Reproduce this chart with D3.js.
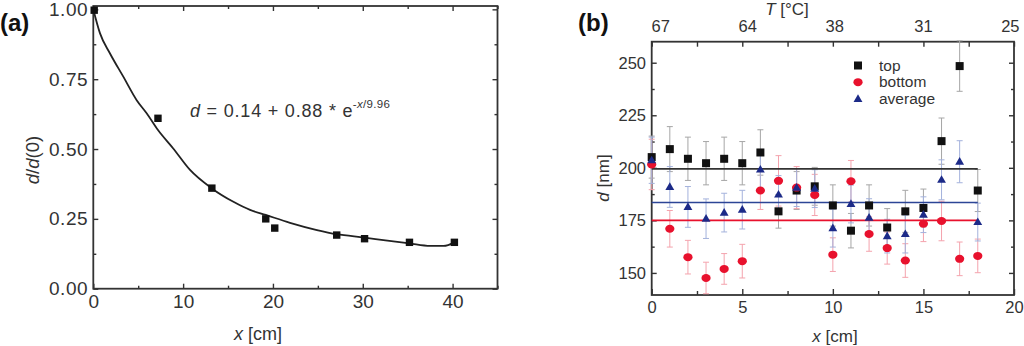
<!DOCTYPE html>
<html>
<head>
<meta charset="utf-8">
<script src="https://cdn.jsdelivr.net/npm/d3@7"></script>
<style>
body{margin:0;background:#fff}
text{font-family:"Liberation Sans",Arial,sans-serif;fill:#333}
</style>
</head>
<body>
<div id="chart"></div>
<script>
var w = 1024, h = 346

// panel (a): normalised thickness vs position
var a_x = [0.1, 7.2, 13.2, 19.2, 20.2, 27.1, 30.2, 35.2, 40.2]
var a_y = [0.997, 0.61, 0.36, 0.25, 0.217, 0.192, 0.179, 0.166, 0.166]
// fit curve
var fit_x = [0, 0.75, 1.86, 3.34, 4.83, 5.94, 7.2, 8.9, 10.77, 13.2, 15.6, 17.45, 19.2, 21.9, 24.9, 27.1, 30.2, 32.3, 35.2, 37.5, 39, 40.2]
var fit_y = [1.0, 0.914, 0.842, 0.759, 0.675, 0.628, 0.568, 0.502, 0.425, 0.359, 0.311, 0.282, 0.264, 0.236, 0.21, 0.195, 0.183, 0.174, 0.162, 0.153, 0.153, 0.166]
var a_xticks = [0, 10, 20, 30, 40]
var a_xminor = [5, 15, 25, 35, 45]
var a_yticks = [0, 0.25, 0.5, 0.75, 1]
var a_yminor = [0.125, 0.375, 0.625, 0.875]

// panel (b): thickness at top / bottom / average
var b_x = [0, 1, 2, 3, 4, 5, 6, 7, 8, 9, 10, 11, 12, 13, 14, 15, 16, 17, 18]
var top_d = [205.1, 208.9, 204.3, 202.2, 204.3, 202.2, 207.3, 179.3, 189.2, 191.2, 182.1, 170.1, 182.1, 171.6, 179.3, 180.9, 212.7, 248.4, 189.2]
var top_err = [10, 10.7, 10.3, 10.3, 10.3, 10.3, 10.8, 8, 9, 9, 9.8, 8.2, 9.8, 9, 10, 9, 11, 12, 10]
var bot_d = [201.6, 171, 157.5, 147.6, 151.9, 155.6, 189.2, 193.8, 190.6, 187.1, 158.7, 193.6, 168.5, 161.8, 155.9, 173.4, 174.7, 156.7, 158.1]
var bot_err = [12, 8.7, 8, 7.5, 7.3, 8, 9, 12, 10, 9.8, 8, 9.9, 8.2, 7.6, 8, 8.5, 9.4, 8, 8]
var avg_d = [203.6, 190.9, 181.4, 175.8, 178.7, 180.1, 199.2, 187.3, 190.6, 190.1, 171.3, 182.8, 176.3, 167.5, 168.5, 177.7, 194.3, 202.9, 174.2]
var avg_err = [11, 9.7, 9.7, 9.4, 9.2, 9.2, 9, 9, 9, 9, 9, 9, 9, 8, 9, 8.5, 9.5, 10, 9]
var mean_top = 199.5, mean_bot = 175, mean_avg = 183.5
var b_xticks = [0, 5, 10, 15, 20]
var b_xminor = [2.5, 7.5, 12.5, 17.5]
var b_yticks = [150, 175, 200, 225, 250]
var b_yminor = [162.5, 187.5, 212.5, 237.5]
var t_labels = ["67", "64", "38", "31", "25"]
var t_label_x = [0.5, 5.3, 10.1, 15, 19.8]

var ink = "#333"

var svg = d3.select("#chart").append("svg")
  .attr("width", w).attr("height", h)

// inward ticks helper
function ticks(axis, g, vals, size, labels, fs, pad) {
  var ax = axis.tickValues(vals).tickSize(-size).tickSizeOuter(0)
  if (labels) ax.tickPadding(pad).tickFormat(labels)
  else ax.tickFormat("")
  g.call(ax)
  g.select(".domain").remove()
  g.selectAll(".tick line").attr("stroke", ink).attr("stroke-width", 1.4)
  g.selectAll("text").attr("font-size", fs).attr("fill", ink)
    .style("font-family", '"Liberation Sans",Arial,sans-serif')
  return g
}

// ---------- (a) ----------
var xa = d3.scaleLinear().domain([0, 45]).range([93.3, 497.5])
var ya = d3.scaleLinear().domain([0, 1.012]).range([288.7, 6])
var ga = svg.append("g")

ticks(d3.axisBottom(xa), ga.append("g").attr("transform", "translate(0," + ya(0) + ")"), a_xticks, 5, d3.format("d"), 19, 6)
ticks(d3.axisBottom(xa), ga.append("g").attr("transform", "translate(0," + ya(0) + ")"), a_xminor, 3)
ticks(d3.axisTop(xa), ga.append("g").attr("transform", "translate(0," + ya.range()[1] + ")"), a_xticks, 5)
ticks(d3.axisTop(xa), ga.append("g").attr("transform", "translate(0," + ya.range()[1] + ")"), a_xminor, 3)
var yl = ticks(d3.axisLeft(ya), ga.append("g").attr("transform", "translate(" + xa(0) + ",0)"), a_yticks, 5, d3.format(".2f"), 19, 5)
yl.selectAll("text").attr("letter-spacing", 0.6)
ticks(d3.axisLeft(ya), ga.append("g").attr("transform", "translate(" + xa(0) + ",0)"), a_yminor, 3)
ticks(d3.axisRight(ya), ga.append("g").attr("transform", "translate(" + xa.range()[1] + ",0)"), a_yticks, 5)
ticks(d3.axisRight(ya), ga.append("g").attr("transform", "translate(" + xa.range()[1] + ",0)"), a_yminor, 3)

ga.append("rect")
  .attr("x", xa(0)).attr("y", ya.range()[1])
  .attr("width", xa.range()[1] - xa(0)).attr("height", ya(0) - ya.range()[1])
  .attr("fill", "none").attr("stroke", ink).attr("stroke-width", 1.8)

var fit = d3.range(fit_x.length).map(function(i){ return [fit_x[i], fit_y[i]] })
ga.append("path")
  .datum(fit)
  .attr("d", d3.line().x(function(d){ return xa(d[0]) }).y(function(d){ return ya(d[1]) }).curve(d3.curveMonotoneX))
  .attr("fill", "none").attr("stroke", "#222").attr("stroke-width", 1.8)

ga.selectAll(".pt")
  .data(a_x)
  .enter().append("rect")
  .attr("class", "pt")
  .attr("x", function(d){ return xa(d) - 3.7 })
  .attr("y", function(d, i){ return ya(a_y[i]) - 3.7 })
  .attr("width", 7.4).attr("height", 7.4)
  .attr("fill", "#111")

var eq = ga.append("text").attr("x", 190).attr("y", 117).attr("font-size", 18).attr("letter-spacing", 0.8)
eq.append("tspan").attr("font-style", "italic").text("d")
eq.append("tspan").text(" = 0.14 + 0.88 * e")
var sup = eq.append("tspan").attr("dy", -9).attr("dx", -0.5).attr("font-size", 11.5).attr("letter-spacing", 0.3)
sup.text("-")
eq.append("tspan").attr("font-size", 11.5).attr("font-style", "italic").attr("letter-spacing", 0.3).text("x")
eq.append("tspan").attr("font-size", 11.5).attr("letter-spacing", 0.3).text("/9.96")

var yla = ga.append("text").attr("transform", "translate(39,160) rotate(-90)")
  .attr("text-anchor", "middle").attr("font-size", 18.5)
yla.append("tspan").attr("font-style", "italic").text("d")
yla.append("tspan").text("/")
yla.append("tspan").attr("font-style", "italic").text("d")
yla.append("tspan").text("(0)")

var xla = ga.append("text").attr("x", 258).attr("y", 340).attr("text-anchor", "middle").attr("font-size", 18)
xla.append("tspan").attr("font-style", "italic").text("x")
xla.append("tspan").text(" [cm]")

svg.append("text").attr("x", 0).attr("y", 31).attr("font-size", 24).attr("font-weight", "bold").style("fill", "#111").text("(a)")

// ---------- (b) ----------
var xb = d3.scaleLinear().domain([0, 20]).range([651.7, 1014])
var yb = d3.scaleLinear().domain([139.5, 260]).range([295, 41.7])
var gb = svg.append("g")

ticks(d3.axisBottom(xb), gb.append("g").attr("transform", "translate(0," + yb.range()[0] + ")"), b_xticks, 6, d3.format("d"), 16.5, 6.6)
ticks(d3.axisBottom(xb), gb.append("g").attr("transform", "translate(0," + yb.range()[0] + ")"), b_xminor, 4)
ticks(d3.axisTop(xb), gb.append("g").attr("transform", "translate(0," + yb.range()[1] + ")"), b_xticks, 5)
ticks(d3.axisTop(xb), gb.append("g").attr("transform", "translate(0," + yb.range()[1] + ")"), b_xminor, 5)
ticks(d3.axisLeft(yb), gb.append("g").attr("transform", "translate(" + xb(0) + ",0)"), b_yticks, 5, d3.format("d"), 16.5, 5.7)
ticks(d3.axisLeft(yb), gb.append("g").attr("transform", "translate(" + xb(0) + ",0)"), b_yminor, 3)
ticks(d3.axisRight(yb), gb.append("g").attr("transform", "translate(" + xb(20) + ",0)"), b_yticks, 5)
ticks(d3.axisRight(yb), gb.append("g").attr("transform", "translate(" + xb(20) + ",0)"), b_yminor, 3)

gb.append("rect")
  .attr("x", xb(0)).attr("y", yb.range()[1])
  .attr("width", xb(20) - xb(0)).attr("height", yb.range()[0] - yb.range()[1])
  .attr("fill", "none").attr("stroke", ink).attr("stroke-width", 1.8)

// temperature labels on top
gb.selectAll(".tlab")
  .data(t_labels)
  .enter().append("text")
  .attr("class", "tlab")
  .attr("x", function(d, i){ return xb(t_label_x[i]) })
  .attr("y", 31.5)
  .attr("text-anchor", "middle").attr("font-size", 16.5)
  .text(function(d){ return d })

var series = [
  {vals: top_d, err: top_err, col: "#111", bar: "#a6a6a6", shape: "square"},
  {vals: bot_d, err: bot_err, col: "#e8112d", bar: "#f4a3ad", shape: "circle"},
  {vals: avg_d, err: avg_err, col: "#1c2a88", bar: "#a4b2dc", shape: "triangle"}
]

// error bars first
series.forEach(function(s){
  var eb = gb.append("g")
  eb.selectAll("line.v").data(b_x).enter().append("line")
    .attr("x1", function(d){ return xb(d) }).attr("x2", function(d){ return xb(d) })
    .attr("y1", function(d, i){ return yb(s.vals[i] - s.err[i]) })
    .attr("y2", function(d, i){ return yb(s.vals[i] + s.err[i]) })
    .attr("stroke", s.bar).attr("stroke-width", 1)
  ;[-1, 1].forEach(function(sg){
    eb.selectAll("line.c" + sg).data(b_x).enter().append("line")
      .attr("x1", function(d){ return xb(d) - 3 }).attr("x2", function(d){ return xb(d) + 3 })
      .attr("y1", function(d, i){ return yb(s.vals[i] + sg * s.err[i]) })
      .attr("y2", function(d, i){ return yb(s.vals[i] + sg * s.err[i]) })
      .attr("stroke", s.bar).attr("stroke-width", 1)
  })
})

// mean lines
var means = [[mean_top, "#333"], [mean_avg, "#2c4596"], [mean_bot, "#e8112d"]]
means.forEach(function(m){
  gb.append("line")
    .attr("x1", xb(0)).attr("x2", xb(18))
    .attr("y1", yb(m[0])).attr("y2", yb(m[0]))
    .attr("stroke", m[1]).attr("stroke-width", 1.6)
})

function marker(g, shape, col, cx, cy) {
  if (shape == "square") {
    g.append("rect").attr("x", cx - 4).attr("y", cy - 4).attr("width", 8).attr("height", 8).attr("fill", col)
  } else if (shape == "circle") {
    g.append("ellipse").attr("cx", cx).attr("cy", cy).attr("rx", 4.6).attr("ry", 4).attr("fill", col)
  } else {
    g.append("path").attr("d", d3.symbol(d3.symbolTriangle).size(34)())
      .attr("transform", "translate(" + cx + "," + (cy + 0.5) + ")").attr("fill", col)
  }
}

series.forEach(function(s){
  var mg = gb.append("g")
  b_x.forEach(function(d, i){ marker(mg, s.shape, s.col, xb(d), yb(s.vals[i])) })
})

// legend
var leg_names = ["top", "bottom", "average"]
leg_names.forEach(function(n, i){
  marker(gb, series[i].shape, series[i].col, 858, 65.5 + i * 16.7)
  gb.append("text").attr("x", 879).attr("y", 70.5 + i * 16.5).attr("font-size", 15.5).text(n)
})

var ylb = gb.append("text").attr("transform", "translate(609,178) rotate(-90)")
  .attr("text-anchor", "middle").attr("font-size", 17)
ylb.append("tspan").attr("font-style", "italic").text("d")
ylb.append("tspan").text(" [nm]")

var xlb = gb.append("text").attr("x", 835).attr("y", 342).attr("text-anchor", "middle").attr("font-size", 17)
xlb.append("tspan").attr("font-style", "italic").text("x")
xlb.append("tspan").text(" [cm]")

var tl = gb.append("text").attr("x", 787).attr("y", 15).attr("text-anchor", "middle").attr("font-size", 17)
tl.append("tspan").attr("font-style", "italic").text("T")
tl.append("tspan").text(" [°C]")

svg.append("text").attr("x", 578).attr("y", 31).attr("font-size", 24).attr("font-weight", "bold").style("fill", "#111").text("(b)")
</script>
</body>
</html>
